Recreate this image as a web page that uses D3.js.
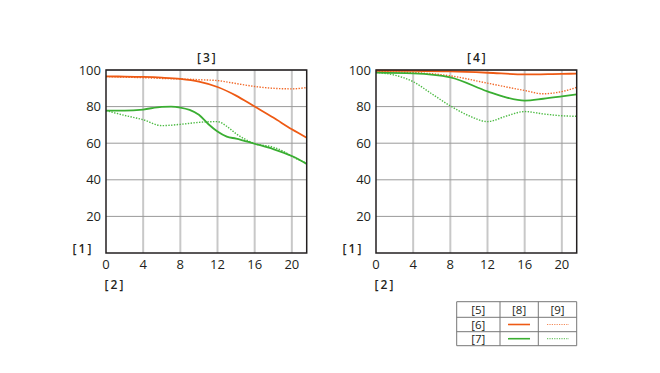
<!DOCTYPE html>
<html>
<head>
<meta charset="utf-8">
<script src="https://cdn.jsdelivr.net/npm/d3@7"></script>
<style>
  body { margin: 0; background: #fff; }
  svg text { font-family: "Open Sans", "Noto Sans", sans-serif; fill: #231f20; }
</style>
</head>
<body>
<div id="chart"></div>
<script>
// ---- data ----
const xTicks = [0, 4, 8, 12, 16, 20];
const yTicks = [20, 40, 60, 80, 100];
const xMax = 21.6;

// left panel [3]
const leftOrangeSolid = [[0,96.5],[2,96.4],[4,96.2],[6,95.8],[8,95.1],[10,93.6],[12,90.7],[14,86],[16,80],[18,74],[20,67.6],[21.6,63]];
const leftOrangeDot   = [[0,96.4],[2,96.1],[4,95.8],[6,95.4],[8,95.1],[10,94.7],[12,94.2],[14,92.6],[16,91],[18,90],[20,89.7],[21.6,90.4]];
const leftGreenSolid  = [[0,77.8],[2,77.8],[4,78.4],[6,79.9],[7,80],[8,79.5],[9,78.2],[10,75.5],[11,70.5],[12,66.4],[13,63.6],[14,62.5],[16,59.7],[18,56.8],[20,53],[21.6,48.7]];
const leftGreenDot    = [[0,77.8],[2,75.2],[4,72.8],[6,69.6],[8,70.3],[10,71.4],[12,71.8],[13,69.2],[14,65.2],[16,59.8],[18,57.8],[19,55.8],[20,52.8],[21.6,49]];

// right panel [4]
const rightOrangeSolid = [[0,99.6],[4,99.5],[8,99.2],[12,98.5],[16,97.6],[20,97.9],[21.6,98]];
const rightOrangeDot   = [[0,99.1],[4,98.6],[8,96.8],[12,92.8],[16,88.8],[18,87],[20,88.2],[21.6,90.5]];
const rightGreenSolid  = [[0,98.6],[4,98.2],[8,96],[12,88.3],[14,85],[16,83.3],[18,84.3],[20,85.6],[21.6,86.7]];
const rightGreenDot    = [[0,98.7],[2,97.2],[4,93.6],[6,87],[8,80.4],[10,75],[12,71.8],[14,74.8],[16,77.3],[18,76],[20,75],[21.6,74.7]];

const panels = [
  { title: "[3]", left: 106, series: [leftOrangeDot, leftGreenDot, leftOrangeSolid, leftGreenSolid] },
  { title: "[4]", left: 376, series: [rightOrangeDot, rightGreenDot, rightOrangeSolid, rightGreenSolid] }
];
const seriesStyle = [
  { color: "#f26a2a", dash: "1.4,1.4", width: 1.4 },
  { color: "#4dbb44", dash: "1.4,1.4", width: 1.4 },
  { color: "#ee5a14", dash: null, width: 1.8 },
  { color: "#3aae32", dash: null, width: 1.8 }
];

// legend table
const legendHeader = ["[5]", "[8]", "[9]"];
const legendRows = ["[6]", "[7]"];
const legendColors = ["#ee5a14", "#3aae32"];

const W = 660, H = 373;
const plotW = 200.7, plotTop = 70, plotBottom = 253;

const svg = d3.select("#chart").append("svg")
  .attr("width", W).attr("height", H);

const y = d3.scaleLinear().domain([0, 100]).range([plotBottom, plotTop]);

panels.forEach(p => {
  const x = d3.scaleLinear().domain([0, xMax]).range([p.left, p.left + plotW]);
  const g = svg.append("g");

  // vertical grid (light, thick)
  g.selectAll(".vgrid").data(xTicks.filter(d => d > 0)).enter().append("line")
    .attr("x1", d => x(d)).attr("x2", d => x(d))
    .attr("y1", plotTop).attr("y2", plotBottom)
    .attr("stroke", "#c8c8c8").attr("stroke-width", 2);

  // horizontal grid
  g.selectAll(".hgrid").data(yTicks).enter().append("line")
    .attr("x1", x(0)).attr("x2", x(xMax))
    .attr("y1", d => y(d)).attr("y2", d => y(d))
    .attr("stroke", "#9a9a9a").attr("stroke-width", 1);

  // curves
  const line = d3.line().x(d => x(d[0])).y(d => y(d[1])).curve(d3.curveMonotoneX);
  p.series.forEach((s, i) => {
    const st = seriesStyle[i];
    g.append("path").datum(s)
      .attr("d", line)
      .attr("fill", "none")
      .attr("stroke", st.color)
      .attr("stroke-width", st.width)
      .attr("stroke-dasharray", st.dash);
  });

  // frame
  g.append("rect")
    .attr("x", x(0)).attr("y", plotTop)
    .attr("width", x(xMax) - x(0)).attr("height", plotBottom - plotTop)
    .attr("fill", "none").attr("stroke", "#231f20").attr("stroke-width", 1.5);

  // tick labels
  g.selectAll(".ylab").data(yTicks).enter().append("text")
    .attr("x", x(0) - 5).attr("y", d => y(d) + 4.5)
    .attr("text-anchor", "end").attr("font-size", 13)
    .text(d => d);
  g.selectAll(".xlab").data(xTicks).enter().append("text")
    .attr("x", d => x(d)).attr("y", plotBottom + 15.5)
    .attr("text-anchor", "middle").attr("font-size", 13)
    .text(d => d);

  const lab = (t, lx, ly) => g.append("text").attr("x", lx).attr("y", ly)
    .attr("text-anchor", "middle").attr("font-size", 12).attr("font-weight", 600)
    .attr("letter-spacing", 2).text(t);
  lab(p.title, x(xMax / 2) + 1, 62);
  lab("[1]", x(0) - 23, 253);
  lab("[2]", x(0) + 9, 289);
});

// legend
const colX = [456.7, 500, 538.3, 576.7];
const rowY = [301.7, 317.3, 331.7, 345.7];
const lg = svg.append("g");
colX.forEach(cx => lg.append("line").attr("x1", cx).attr("x2", cx)
  .attr("y1", rowY[0]).attr("y2", rowY[3]).attr("stroke", "#777").attr("stroke-width", 1));
rowY.forEach(ry => lg.append("line").attr("x1", colX[0]).attr("x2", colX[3])
  .attr("y1", ry).attr("y2", ry).attr("stroke", "#777").attr("stroke-width", 1));
legendHeader.forEach((t, i) => lg.append("text")
  .attr("x", (colX[i] + colX[i + 1]) / 2).attr("y", (rowY[0] + rowY[1]) / 2 + 4)
  .attr("text-anchor", "middle").attr("font-size", 11.5).attr("fill", "#444").text(t));
legendRows.forEach((t, i) => {
  const cy = (rowY[i + 1] + rowY[i + 2]) / 2;
  lg.append("text").attr("x", (colX[0] + colX[1]) / 2).attr("y", cy + 4)
    .attr("text-anchor", "middle").attr("font-size", 11.5).attr("fill", "#444").text(t);
  lg.append("line").attr("x1", 508).attr("x2", 530).attr("y1", cy).attr("y2", cy)
    .attr("stroke", legendColors[i]).attr("stroke-width", 1.6);
  lg.append("line").attr("x1", 547).attr("x2", 569).attr("y1", cy).attr("y2", cy)
    .attr("stroke", legendColors[i]).attr("stroke-width", 1.2)
    .attr("stroke-dasharray", "1.2,1.2").attr("opacity", 0.7);
});
</script>
</body>
</html>
